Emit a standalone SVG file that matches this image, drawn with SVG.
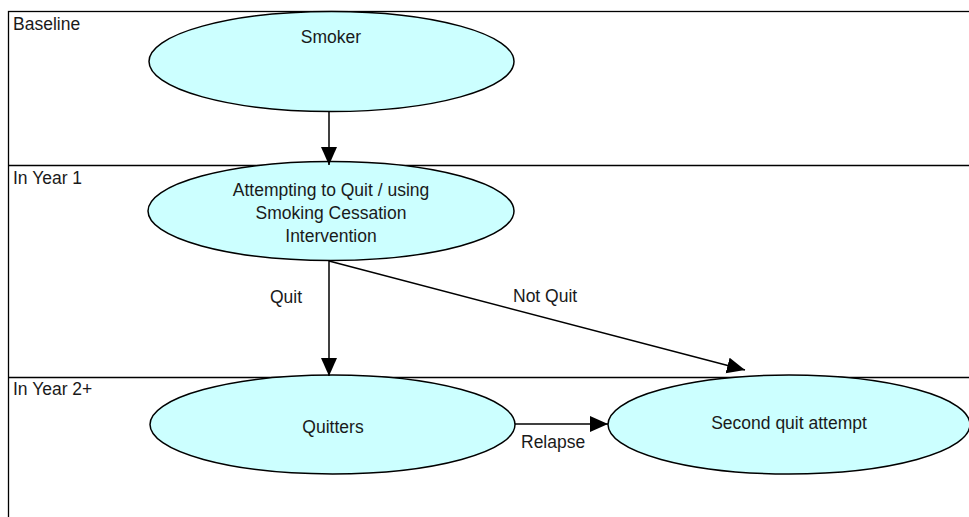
<svg xmlns="http://www.w3.org/2000/svg" width="969" height="517" viewBox="0 0 969 517">
<style>
text{font-family:"Liberation Sans",Arial,sans-serif;font-size:17.5px;fill:#1a1a1a}
.c{text-anchor:middle}
.n{fill:#ccffff;stroke:#000;stroke-width:1.5}
.lane{fill:none;stroke:#000;stroke-width:1.3}
.e{stroke:#000;stroke-width:1.5;fill:none;marker-end:url(#ah)}
</style>
<defs>
<marker id="ah" markerUnits="userSpaceOnUse" markerWidth="19" markerHeight="17" refX="18" refY="8" orient="auto">
<path d="M0,0 L18,8 L0,16 z" fill="#000"/>
</marker>
</defs>
<g id="lanes">
<rect class="lane" x="8.5" y="11.5" width="975" height="520"/>
<line class="lane" x1="8.5" y1="165.5" x2="969" y2="165.5"/>
<line class="lane" x1="8.5" y1="377.5" x2="969" y2="377.5"/>
<text x="13" y="30">Baseline</text>
<text x="13" y="184">In Year 1</text>
<text x="13" y="395">In Year 2+</text>
</g>
<g id="smoker">
<ellipse class="n" cx="331.5" cy="61.5" rx="182.5" ry="50"/>
<text class="c" x="331" y="43">Smoker</text>
</g>
<g id="attempting">
<ellipse class="n" cx="331" cy="211" rx="183" ry="49.5"/>
<text class="c" x="331" y="196">Attempting to Quit / using</text>
<text class="c" x="331" y="219">Smoking Cessation</text>
<text class="c" x="331" y="242">Intervention</text>
</g>
<g id="quitters">
<ellipse class="n" cx="332.5" cy="424.5" rx="182.5" ry="49.5"/>
<text class="c" x="333" y="433">Quitters</text>
</g>
<g id="second">
<ellipse class="n" cx="789" cy="424.5" rx="181" ry="49.5"/>
<text class="c" x="789" y="429">Second quit attempt</text>
</g>
<g id="connectors">
<line class="e" x1="329" y1="112" x2="329" y2="165"/>
<line class="e" x1="329" y1="261" x2="329" y2="376"/>
<line class="e" x1="329" y1="261" x2="745" y2="370"/>
<line class="e" x1="515" y1="424" x2="608" y2="424"/>
<text x="270" y="303">Quit</text>
<text x="513" y="302">Not Quit</text>
<text x="521" y="448">Relapse</text>
</g>
</svg>
